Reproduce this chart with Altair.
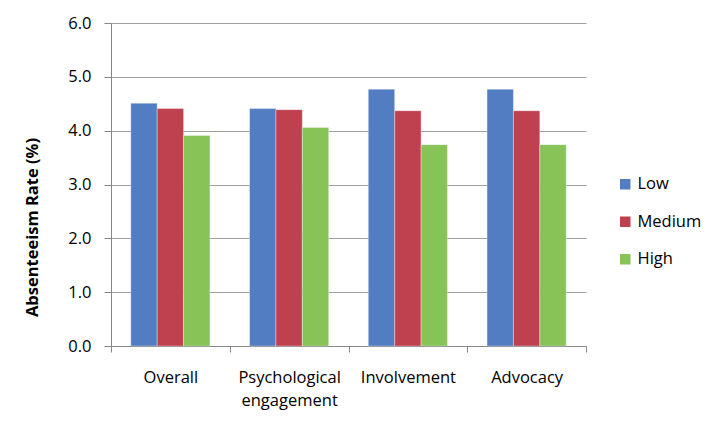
import altair as alt
import pandas as pd

categories = ["Overall", "Psychological engagement", "Involvement", "Advocacy"]
levels = ["Low", "Medium", "High"]
low = [4.51, 4.41, 4.77, 4.77]
medium = [4.41, 4.39, 4.37, 4.37]
high = [3.91, 4.06, 3.74, 3.74]
colors = ["#527DC2", "#BF4150", "#87C357"]

rows = []
for i, c in enumerate(categories):
    for lvl, vals in zip(levels, [low, medium, high]):
        rows.append({"category": c, "level": lvl, "rate": vals[i]})
df = pd.DataFrame(rows)

FONT = "Open Sans"

chart = alt.Chart(df).mark_bar(stroke="#FFFFFF", strokeOpacity=0.35, strokeWidth=1).encode(
    x=alt.X(
        "category:N",
        sort=categories,
        scale=alt.Scale(paddingInner=0, paddingOuter=0),
        axis=alt.Axis(
            title=None,
            labelAngle=0,
            tickBand="extent",
            labelExpr="datum.label == 'Psychological engagement' ? ['Psychological', 'engagement'] : datum.label",
            labelFont=FONT,
            labelFontSize=16.5,
            labelColor="#000000",
            labelPadding=17,
            labelLineHeight=23,
            tickSize=6,
            tickColor="#868686",
            domainColor="#868686",
            grid=False,
        ),
    ),
    xOffset=alt.XOffset(
        "level:N",
        sort=levels,
        scale=alt.Scale(paddingInner=0, paddingOuter=0.75),
    ),
    y=alt.Y(
        "rate:Q",
        scale=alt.Scale(domain=[0, 6], nice=False),
        axis=alt.Axis(
            title="Absenteeism Rate (%)",
            values=[0, 1, 2, 3, 4, 5, 6],
            format=".1f",
            labelFont=FONT,
            labelFontSize=16.5,
            labelColor="#000000",
            labelPadding=13,
            tickSize=7,
            tickColor="#868686",
            domainColor="#868686",
            gridColor="#A0A0A0",
            grid=True,
            titleFont=FONT,
            titleFontSize=16.5,
            titleFontWeight="bold",
            titleColor="#000000",
            titleX=-79,
            titleY=204,
            titleAngle=270,
            titleAlign="center",
            titleBaseline="middle",
        ),
    ),
    color=alt.Color(
        "level:N",
        sort=levels,
        scale=alt.Scale(domain=levels, range=colors),
        legend=alt.Legend(
            title=None,
            orient="none",
            legendX=506,
            legendY=153,
            symbolType="square",
            symbolSize=110,
            symbolStrokeWidth=0,
            labelFont=FONT,
            labelFontSize=16.5,
            labelColor="#000000",
            rowPadding=20.5,
            labelOffset=4,
        ),
    ),
).properties(
    width=475,
    height=323,
    autosize=alt.AutoSizeParams(type="none"),
    padding={"left": 103, "top": 15, "right": 120, "bottom": 70},
).configure_view(stroke=None)

chart.save("out.html", embed_options={"renderer": "svg", "actions": False})
